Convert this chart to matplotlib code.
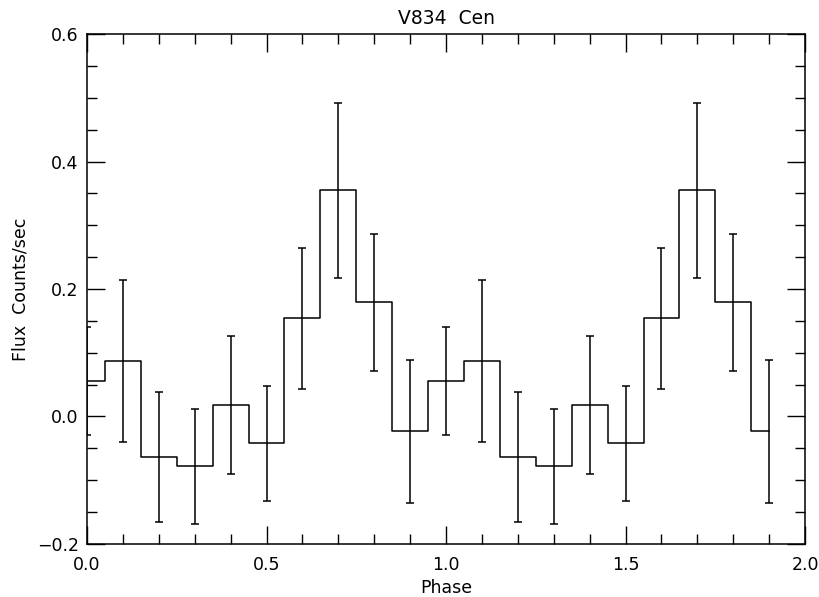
import matplotlib
matplotlib.use("Agg")
import matplotlib.pyplot as plt
from matplotlib.ticker import MultipleLocator, FormatStrFormatter, FuncFormatter

# Folded light curve, shown over two cycles
phase = [0.0, 0.1, 0.2, 0.3, 0.4, 0.5, 0.6, 0.7, 0.8, 0.9,
         1.0, 1.1, 1.2, 1.3, 1.4, 1.5, 1.6, 1.7, 1.8, 1.9]
flux = [0.056, 0.087, -0.063, -0.078, 0.018, -0.042, 0.154, 0.355, 0.179, -0.023,
        0.056, 0.087, -0.063, -0.078, 0.018, -0.042, 0.154, 0.355, 0.179, -0.023]
flux_err = [0.085, 0.127, 0.102, 0.090, 0.108, 0.090, 0.111, 0.137, 0.108, 0.112,
            0.085, 0.127, 0.102, 0.090, 0.108, 0.090, 0.111, 0.137, 0.108, 0.112]

plt.rcParams['font.family'] = ['DejaVu Sans']

fig = plt.figure(figsize=(8.19, 5.97), dpi=100)
ax = fig.add_axes([0.1062, 0.0888, 0.8768, 0.8542])

ax.plot(phase, flux, drawstyle='steps-mid', color='black', lw=1.1)
ax.errorbar(phase, flux, yerr=flux_err, fmt='none', ecolor='black',
            elinewidth=1.1, capsize=3, capthick=1.1)

ax.set_xlim(0.0, 2.0)
ax.set_ylim(-0.2, 0.6)
ax.xaxis.set_major_locator(MultipleLocator(0.5))
ax.xaxis.set_minor_locator(MultipleLocator(0.1))
ax.yaxis.set_major_locator(MultipleLocator(0.2))
ax.yaxis.set_minor_locator(MultipleLocator(0.05))
ax.xaxis.set_major_formatter(FormatStrFormatter('%.1f'))
ax.yaxis.set_major_formatter(FuncFormatter(
    lambda v, p: ('\u2212' if v < -1e-9 else '') + '%.1f' % abs(v)))

ax.tick_params(which='both', direction='in', top=True, right=True,
               labelsize=12.5, width=1.0, colors='black')
ax.tick_params(axis='x', which='major', length=13, pad=9)
ax.tick_params(axis='y', which='major', length=13, pad=6)
ax.tick_params(which='minor', length=7)
for s in ax.spines.values():
    s.set_linewidth(1.1)

ax.set_title('V834  Cen', fontsize=13.5, pad=7)
ax.set_xlabel('Phase', fontsize=12.5, labelpad=3)
ax.set_ylabel('Flux  Counts/sec', fontsize=12.5, labelpad=5)

fig.savefig('out.png', dpi=100)
